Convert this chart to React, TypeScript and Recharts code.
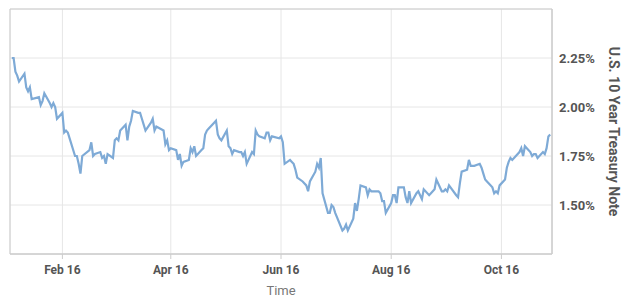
import React from 'react';
import {
  LineChart, Line, XAxis, YAxis, CartesianGrid, ReferenceArea,
} from 'recharts';

// trading days, Jan 4 - Oct 28 2016
const dates = [
  '2016-01-04', '2016-01-05', '2016-01-06', '2016-01-07', '2016-01-08', '2016-01-11', '2016-01-12', '2016-01-13', '2016-01-14', '2016-01-15',
  '2016-01-19', '2016-01-20', '2016-01-21', '2016-01-22', '2016-01-25', '2016-01-26', '2016-01-27', '2016-01-28', '2016-01-29',
  '2016-02-01', '2016-02-02', '2016-02-03', '2016-02-04', '2016-02-05', '2016-02-08', '2016-02-09', '2016-02-10', '2016-02-11', '2016-02-12',
  '2016-02-16', '2016-02-17', '2016-02-18', '2016-02-19', '2016-02-22', '2016-02-23', '2016-02-24', '2016-02-25', '2016-02-26', '2016-02-29',
  '2016-03-01', '2016-03-02', '2016-03-03', '2016-03-04', '2016-03-07', '2016-03-08', '2016-03-09', '2016-03-10', '2016-03-11',
  '2016-03-14', '2016-03-15', '2016-03-16', '2016-03-17', '2016-03-18', '2016-03-21', '2016-03-22', '2016-03-23', '2016-03-24',
  '2016-03-28', '2016-03-29', '2016-03-30', '2016-03-31', '2016-04-01',
  '2016-04-04', '2016-04-05', '2016-04-06', '2016-04-07', '2016-04-08', '2016-04-11', '2016-04-12', '2016-04-13', '2016-04-14', '2016-04-15',
  '2016-04-18', '2016-04-19', '2016-04-20', '2016-04-21', '2016-04-22', '2016-04-25', '2016-04-26', '2016-04-27', '2016-04-28', '2016-04-29',
  '2016-05-02', '2016-05-03', '2016-05-04', '2016-05-05', '2016-05-06', '2016-05-09', '2016-05-10', '2016-05-11', '2016-05-12', '2016-05-13',
  '2016-05-16', '2016-05-17', '2016-05-18', '2016-05-19', '2016-05-20', '2016-05-23', '2016-05-24', '2016-05-25', '2016-05-26', '2016-05-27',
  '2016-05-31', '2016-06-01', '2016-06-02', '2016-06-03', '2016-06-06', '2016-06-07', '2016-06-08', '2016-06-09', '2016-06-10',
  '2016-06-13', '2016-06-14', '2016-06-15', '2016-06-16', '2016-06-17', '2016-06-20', '2016-06-21', '2016-06-22', '2016-06-23', '2016-06-24',
  '2016-06-27', '2016-06-28', '2016-06-29', '2016-06-30', '2016-07-01', '2016-07-05', '2016-07-06', '2016-07-07', '2016-07-08',
  '2016-07-11', '2016-07-12', '2016-07-13', '2016-07-14', '2016-07-15', '2016-07-18', '2016-07-19', '2016-07-20', '2016-07-21', '2016-07-22',
  '2016-07-25', '2016-07-26', '2016-07-27', '2016-07-28', '2016-07-29', '2016-08-01', '2016-08-02', '2016-08-03', '2016-08-04', '2016-08-05',
  '2016-08-08', '2016-08-09', '2016-08-10', '2016-08-11', '2016-08-12', '2016-08-15', '2016-08-16', '2016-08-17', '2016-08-18', '2016-08-19',
  '2016-08-22', '2016-08-23', '2016-08-24', '2016-08-25', '2016-08-26', '2016-08-29', '2016-08-30', '2016-08-31', '2016-09-01', '2016-09-02',
  '2016-09-06', '2016-09-07', '2016-09-08', '2016-09-09', '2016-09-12', '2016-09-13', '2016-09-14', '2016-09-15', '2016-09-16',
  '2016-09-19', '2016-09-20', '2016-09-21', '2016-09-22', '2016-09-23', '2016-09-26', '2016-09-27', '2016-09-28', '2016-09-29', '2016-09-30',
  '2016-10-03', '2016-10-04', '2016-10-05', '2016-10-06', '2016-10-07', '2016-10-11', '2016-10-12', '2016-10-13', '2016-10-14',
  '2016-10-17', '2016-10-18', '2016-10-19', '2016-10-20', '2016-10-21', '2016-10-24', '2016-10-25', '2016-10-26', '2016-10-27', '2016-10-28',
];

const yields = [
  2.25, 2.25, 2.18, 2.16, 2.13, 2.17, 2.10, 2.08, 2.10, 2.04,
  2.05, 2.01, 2.03, 2.07, 2.02, 2.00, 2.02, 2.00, 1.94,
  1.97, 1.87, 1.88, 1.87, 1.84, 1.75, 1.75, 1.71, 1.66, 1.75,
  1.78, 1.82, 1.75, 1.76, 1.77, 1.74, 1.75, 1.71, 1.76, 1.74,
  1.83, 1.84, 1.83, 1.88, 1.91, 1.83, 1.90, 1.93, 1.98,
  1.97, 1.97, 1.94, 1.91, 1.88, 1.92, 1.94, 1.88, 1.90,
  1.88, 1.81, 1.83, 1.78, 1.79,
  1.78, 1.73, 1.76, 1.70, 1.72, 1.73, 1.79, 1.77, 1.80, 1.75,
  1.78, 1.79, 1.86, 1.88, 1.89, 1.92, 1.93, 1.86, 1.84, 1.83,
  1.88, 1.80, 1.79, 1.76, 1.78, 1.77, 1.77, 1.75, 1.77, 1.71,
  1.77, 1.76, 1.88, 1.86, 1.85, 1.84, 1.87, 1.87, 1.83, 1.85,
  1.84, 1.85, 1.82, 1.71, 1.73, 1.72, 1.71, 1.68, 1.64,
  1.62, 1.61, 1.60, 1.57, 1.62, 1.67, 1.71, 1.69, 1.74, 1.56,
  1.46, 1.46, 1.50, 1.49, 1.46, 1.37, 1.38, 1.40, 1.37,
  1.43, 1.51, 1.47, 1.53, 1.60, 1.59, 1.55, 1.58, 1.57, 1.57,
  1.57, 1.56, 1.52, 1.52, 1.46, 1.51, 1.55, 1.55, 1.51, 1.59,
  1.59, 1.54, 1.51, 1.57, 1.51, 1.56, 1.57, 1.55, 1.53, 1.58,
  1.55, 1.56, 1.57, 1.58, 1.63, 1.57, 1.57, 1.58, 1.57, 1.60,
  1.55, 1.54, 1.61, 1.67, 1.68, 1.73, 1.70, 1.70, 1.70,
  1.71, 1.69, 1.66, 1.63, 1.62, 1.59, 1.56, 1.57, 1.56, 1.60,
  1.63, 1.69, 1.72, 1.74, 1.73, 1.77, 1.79, 1.75, 1.80,
  1.77, 1.75, 1.76, 1.76, 1.74, 1.77, 1.76, 1.79, 1.85, 1.86,
];

const xTicks = ['2016-02-01', '2016-04-01', '2016-06-01', '2016-08-01', '2016-10-01'];
const yTicks = [1.5, 1.75, 2.0, 2.25];
const yRange = [1.25, 2.5];
const xRange = ['2016-01-03', '2016-10-29'];

const months = ['Jan', 'Feb', 'Mar', 'Apr', 'May', 'Jun', 'Jul', 'Aug', 'Sep', 'Oct', 'Nov', 'Dec'];
const ts = (s: string) => Date.parse(s + 'T00:00:00Z');

const data = dates.map((d, i) => ({ t: ts(d), y: yields[i] }));

const fmtDate = (v: number) => {
  const d = new Date(v);
  return `${months[d.getUTCMonth()]} ${String(d.getUTCFullYear()).slice(2)}`;
};

const YLabel = (props: any) => {
  const { viewBox } = props;
  const x = viewBox.x + viewBox.width - 16;
  const y = viewBox.y + viewBox.height / 2;
  return (
    <text x={x} y={y} transform={`rotate(90, ${x}, ${y})`} textAnchor="middle"
      dominantBaseline="central" fill="#555" fontSize={14} fontWeight="bold" fontFamily="Roboto">
      U.S. 10 Year Treasury Note
    </text>
  );
};

const App = () => {
  return (
    <div style={{ position: 'absolute', left: 0, top: 0, width: 630, height: 303, background: '#fff' }}>
      <LineChart width={630} height={303} data={data} margin={{ top: 9, right: 0, left: 10, bottom: 0 }}>
        <CartesianGrid stroke="#e6e6e6" />
        <XAxis
          dataKey="t" type="number" scale="time"
          domain={[ts(xRange[0]), ts(xRange[1])]}
          ticks={xTicks.map(ts)} tickFormatter={fmtDate}
          height={49} stroke="#ccc" tickSize={5} tickMargin={6}
          tick={{ fill: '#555', fontSize: 12, fontWeight: 'bold', fontFamily: 'Roboto' }}
          label={{ value: 'Time', position: 'insideBottom', offset: 8, fill: '#777', fontSize: 13, fontFamily: 'Roboto' }}
        />
        <YAxis
          orientation="right" width={78} domain={yRange} ticks={yTicks}
          tickFormatter={(v: number) => `${v.toFixed(2)}%`}
          axisLine={{ stroke: '#ccc' }} tickLine={false} tickSize={0} tickMargin={7}
          tick={{ fill: '#555', fontSize: 13, fontWeight: 'bold', fontFamily: 'Roboto' }}
          label={<YLabel />}
        />
        <ReferenceArea x1={ts(xRange[0])} x2={ts(xRange[1])} y1={yRange[0]} y2={yRange[1]}
          fill="none" stroke="#ccc" ifOverflow="visible" />
        <Line type="linear" dataKey="y" stroke="#7eaad6" strokeWidth={2.2} dot={false} isAnimationActive={false} />
      </LineChart>
    </div>
  );
};

export default App;
